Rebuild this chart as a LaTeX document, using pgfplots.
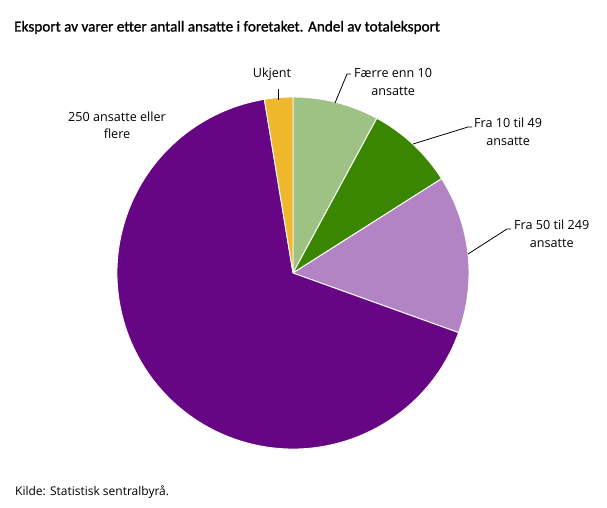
\documentclass[border=0pt]{standalone}
\usepackage{pgfplots}
\usepackage{pgfplotstable}
\pgfplotsset{compat=1.18}
\usepackage{fontspec}
\setmainfont{Open Sans}
\newfontfamily\titlefont[FakeBold=1.2]{Carlito}
\definecolor{c1}{HTML}{9DC284}
\definecolor{c2}{HTML}{3B8600}
\definecolor{c3}{HTML}{B384C4}
\definecolor{c4}{HTML}{670685}
\definecolor{c5}{HTML}{EFB72B}
\pgfplotstableread{
share color
7.9 c1
8.1 c2
14.5 c3
66.9 c4
2.6 c5
}\shares
\begin{document}
\begin{tikzpicture}
\begin{axis}[scale only axis, width=607pt, height=508pt,
  xmin=0, xmax=607, ymin=0, ymax=508, y dir=reverse,
  hide axis, clip=false]
\pgfplotsextra{
  \xdef\cum{0}
  \foreach \i in {0,...,4}{
    \pgfplotstablegetelem{\i}{share}\of\shares \let\v\pgfplotsretval
    \pgfplotstablegetelem{\i}{color}\of\shares \let\c\pgfplotsretval
    \pgfmathsetmacro\aS{90-3.6*\cum}
    \pgfmathsetmacro\aE{90-3.6*(\cum+\v)}
    \fill[fill=\c, draw=white, line width=0.9pt, line join=round]
      (axis cs:293,273) -- ++(\aS:176pt) arc[start angle=\aS, end angle=\aE, radius=176pt] -- cycle;
    \pgfmathsetmacro\nc{\cum+\v}
    \xdef\cum{\nc}
  }
}
\path (axis cs:0,0) rectangle (axis cs:607,508);
% title and source
\node[anchor=base west, inner sep=0, font=\titlefont\fontsize{15.2}{19}\selectfont] at (axis cs:14,31.5)
  {Eksport av varer etter antall ansatte i foretaket. Andel av totaleksport};
\node[anchor=base west, inner sep=0, font=\fontsize{12}{14}\selectfont] at (axis cs:15,495)
  {Kilde: Statistisk sentralbyrå.};
% leader lines
\draw[line width=0.8pt] (axis cs:278,100) -- (axis cs:278,89);
\draw[line width=0.8pt] (axis cs:335,103) -- (axis cs:347,74) -- (axis cs:351,74);
\draw[line width=0.8pt] (axis cs:413,144) -- (axis cs:468,127) -- (axis cs:472,127);
\draw[line width=0.8pt] (axis cs:468,254) -- (axis cs:507,229) -- (axis cs:511,229);
% labels (base anchor = baseline of last line)
\begin{scope}[every node/.style={inner sep=0, font=\fontsize{12.6}{17.5}\selectfont}]
\node[anchor=base] at (axis cs:272,77.5) {Ukjent};
\node[anchor=base west, align=center] at (axis cs:354,95.5) {Færre enn 10\\ansatte};
\node[anchor=base west, align=center] at (axis cs:474,145) {Fra 10 til 49\\ansatte};
\node[anchor=base west, align=center] at (axis cs:514,247) {Fra 50 til 249\\ansatte};
\node[anchor=base, align=center] at (axis cs:117,139) {250 ansatte eller\\flere};
\end{scope}
\end{axis}
\end{tikzpicture}
\end{document}
